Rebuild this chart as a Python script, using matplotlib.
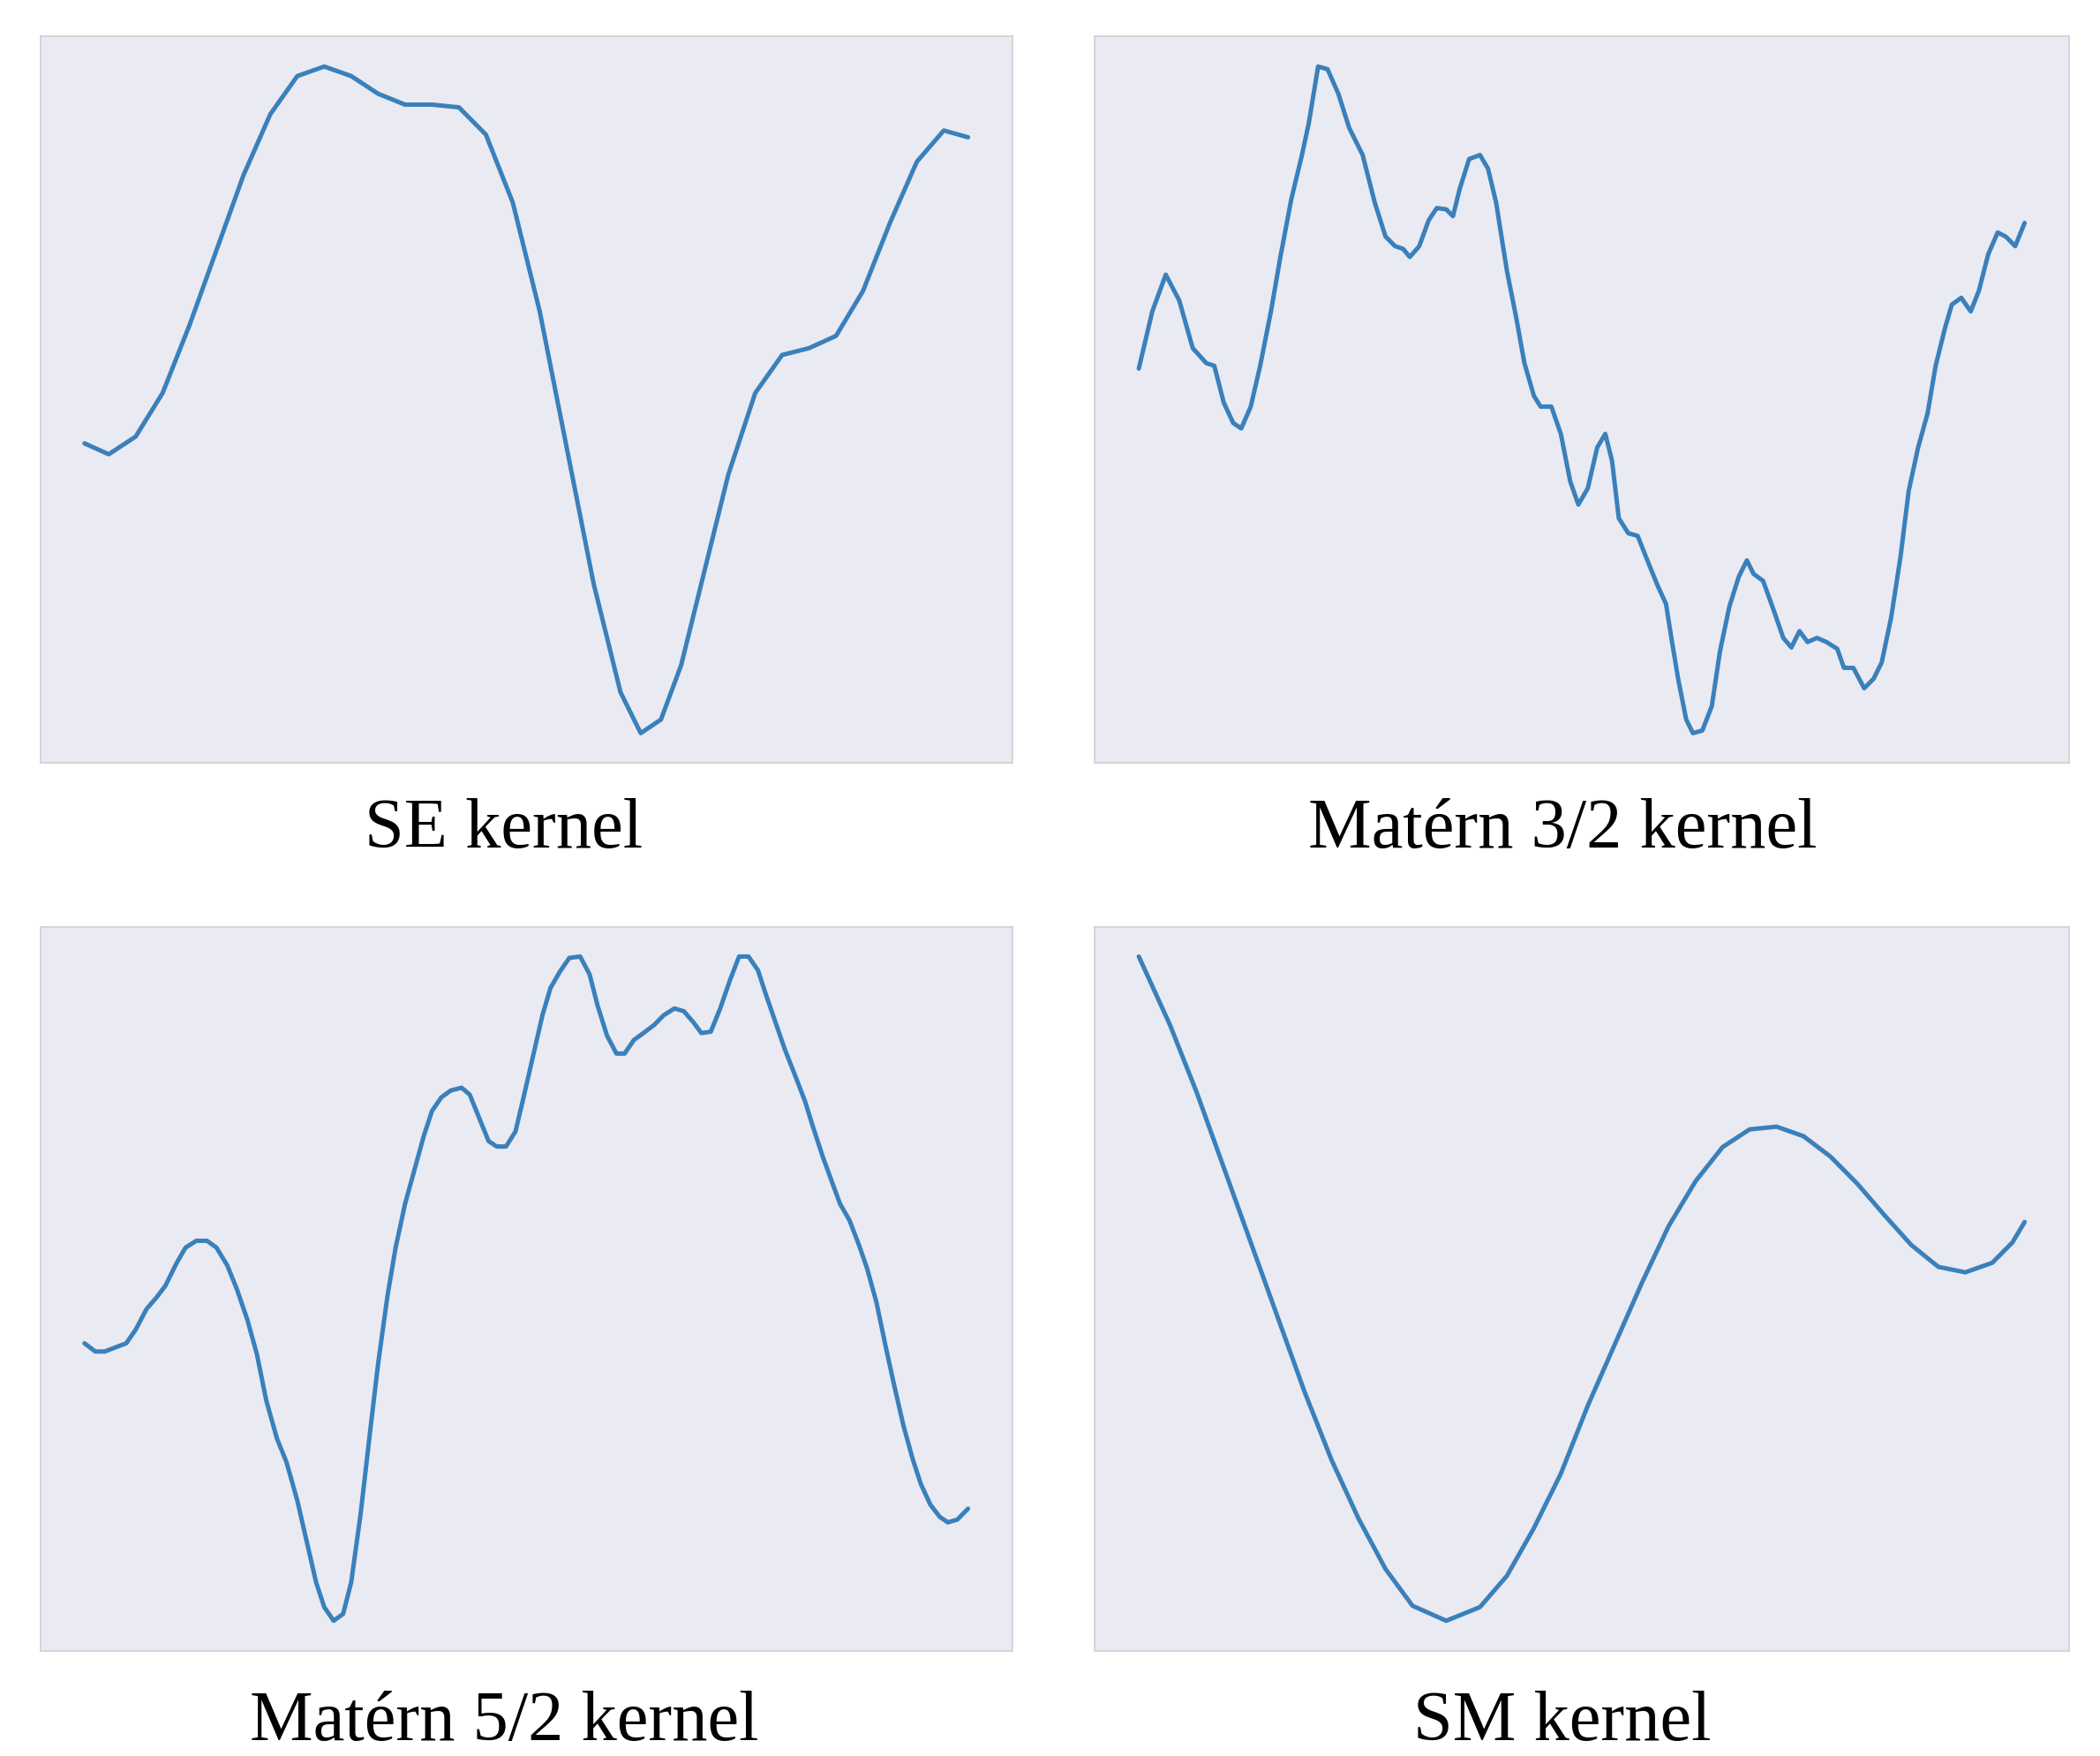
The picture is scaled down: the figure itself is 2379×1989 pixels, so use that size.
import matplotlib
matplotlib.use("Agg")
import matplotlib.pyplot as plt

se_x = [62,80,100,120,140,160,180,200,220,240,260,280,300,320,340,360,380,400,420,440,460,475,490,505,520,540,560,580,600,620,640,660,680,700,718]
se_y = [327,335,322,290,240,185,130,85,57,50,57,70,78,78,80,100,150,230,330,430,510,540,530,490,430,350,290,262,257,248,215,165,120,97,102]

m32_x = [847,857,867,877,887,897,903,910,917,923,930,937,945,952,960,968,973,980,987,995,1003,1013,1022,1030,1037,1043,1048,1055,1062,1068,1075,1080,1085,1092,1100,1106,1112,1120,1127,1133,1140,1145,1153,1160,1167,1173,1180,1187,1193,1198,1203,1210,1217,1225,1232,1238,1242,1247,1253,1258,1265,1272,1278,1285,1292,1298,1303,1310,1318,1325,1331,1337,1343,1350,1357,1365,1370,1377,1385,1392,1398,1405,1412,1418,1425,1432,1438,1445,1450,1457,1464,1470,1477,1484,1490,1497,1504]
m32_y = [272,230,203,222,257,268,270,297,312,316,300,270,230,190,148,115,92,50,52,70,95,115,150,175,182,184,190,182,163,154,155,160,140,118,115,125,150,200,235,268,292,300,300,320,355,372,360,330,320,340,382,393,395,415,432,445,470,500,530,540,538,520,480,447,425,413,423,428,450,470,477,465,473,470,473,478,492,492,507,500,488,455,410,362,330,305,270,242,225,220,230,215,188,172,175,182,165]

m52_x = [62,70,77,85,93,100,108,115,122,130,137,145,153,160,168,175,183,190,197,205,212,220,227,234,240,247,254,260,267,274,280,287,293,300,307,314,320,327,334,342,348,355,362,368,375,382,388,395,402,408,415,422,430,437,443,450,457,463,470,477,485,492,500,507,514,520,527,534,541,548,555,562,568,575,582,590,597,603,610,617,623,630,637,643,650,657,663,670,677,683,690,697,703,710,718]
m52_y = [995,1001,1001,998,995,985,970,962,953,937,925,920,920,925,938,955,978,1003,1037,1065,1082,1110,1140,1170,1188,1198,1193,1170,1120,1060,1010,960,925,893,868,843,825,815,810,808,813,830,847,851,851,840,815,785,755,735,723,713,712,725,748,770,783,783,773,768,762,755,750,752,760,768,767,750,730,712,712,722,740,760,780,800,818,837,858,877,893,905,923,940,965,998,1025,1055,1080,1098,1113,1122,1126,1124,1116]

sm_x = [847,870,890,910,930,950,970,990,1010,1030,1050,1075,1100,1120,1140,1160,1180,1200,1220,1240,1260,1280,1300,1320,1340,1360,1380,1400,1420,1440,1460,1480,1495,1504]
sm_y = [710,760,810,865,920,975,1030,1080,1123,1160,1187,1198,1188,1165,1130,1090,1040,995,950,908,875,850,837,835,842,857,877,900,922,938,942,935,920,905]

titles = ["SE kernel", "Matérn 3/2 kernel", "Matérn 5/2 kernel", "SM kernel"]
series = [(se_x, se_y), (m32_x, m32_y), (m52_x, m52_y), (sm_x, sm_y)]

fig = plt.figure(figsize=(23.79, 19.89), dpi=100)
lefts = [0.0192, 0.5212, 0.0192, 0.5212]
bottoms = [0.5654, 0.5654, 0.060, 0.060]
widths = [0.4628, 0.464, 0.4628, 0.464]
heights = [0.4138, 0.4138, 0.4123, 0.4123]
label_pos = [(0.240, 0.527), (0.744, 0.527), (0.240, 0.019), (0.744, 0.019)]

for i in range(4):
    ax = fig.add_axes([lefts[i], bottoms[i], widths[i], heights[i]])
    ax.set_facecolor("#eaeaf2")
    xs, ys = series[i]
    ax.plot(xs, [-v for v in ys], color="#3a80bb", lw=3.6,
            solid_joinstyle="round", solid_capstyle="round")
    ax.margins(x=0.05, y=0.045)
    ax.set_xticks([]); ax.set_yticks([])
    for s in ax.spines.values():
        s.set_color("#cfcfd4"); s.set_linewidth(1.2)
    fig.text(label_pos[i][0], label_pos[i][1], titles[i], ha="center", va="center",
             fontsize=58, family="Liberation Serif")

fig.savefig("out.png", dpi=100, facecolor="white")
